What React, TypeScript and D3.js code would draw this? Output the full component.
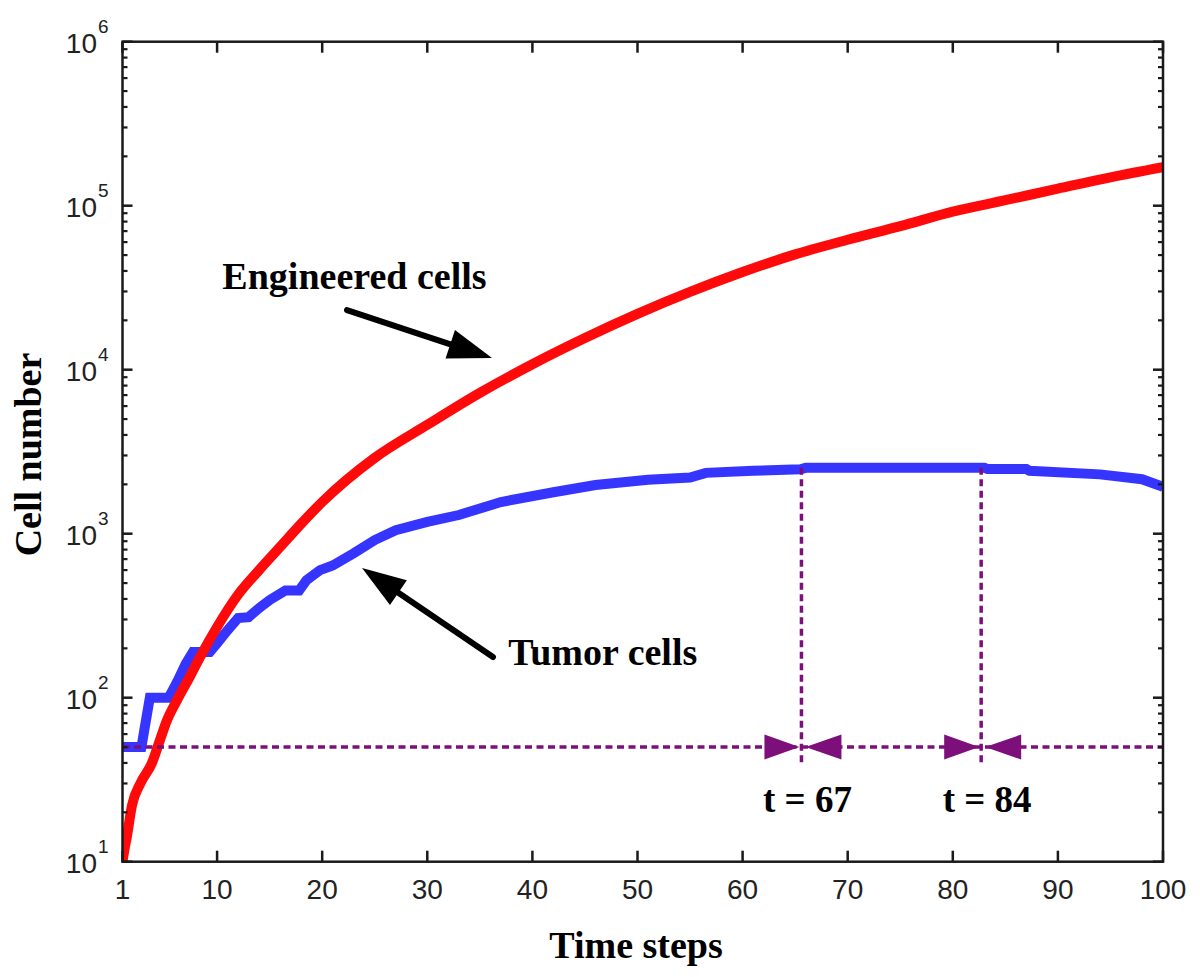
import React from 'react';
import * as d3 from 'd3';

// ---- data ----
const xTickValues = [1, 10, 20, 30, 40, 50, 60, 70, 80, 90, 100];
const yExponents = [1, 2, 3, 4, 5, 6];

const engineeredT = [1, 1.2, 1.4, 1.9, 2.7, 3.8, 4.6, 5.2, 6.2, 7.4, 8.4, 10, 12, 14, 16, 18, 20, 25, 30, 35, 40, 45, 50, 55, 60, 65, 70, 75, 80, 85, 90, 95, 100];
const engineeredV = [10, 12, 14, 22, 30, 40, 56, 72, 97, 134, 178, 270, 425, 600, 830, 1150, 1560, 2900, 4610, 7220, 10800, 15600, 21900, 29800, 39400, 50500, 62000, 75000, 92000, 108000, 127000, 149000, 172000];

const tumorT = [1, 2.8, 3.6, 5.4, 6.2, 7.0, 7.7, 9.3, 10, 11, 12, 13, 14, 15, 16.5, 17.8, 18.5, 19.8, 21, 23, 25, 27, 30, 33, 37, 42, 46, 51, 55, 56.5, 61, 65.5, 66, 83, 83.3, 87, 87.3, 94, 98, 100];
const tumorV = [50, 50, 100, 100, 125, 160, 190, 190, 215, 258, 306, 310, 352, 394, 450, 450, 520, 600, 640, 760, 915, 1050, 1180, 1300, 1560, 1790, 1980, 2130, 2200, 2350, 2420, 2470, 2520, 2520, 2480, 2480, 2420, 2300, 2150, 1930];

const thresholdValue = 50;
const markerT = [65.6, 82.7];
const markerLabels = ['t = 67', 't = 84'];
const markerTopValue = 2520;
const markerLabelValue = 20;

// annotation positions in data coords [t, value]
const engLabel = { text: 'Engineered cells', at: [23.07, 31000] };
const engArrow = { from: [22.36, 23100], to: [36.16, 11770] };
const tumLabel = { text: 'Tumor cells', at: [46.7, 158] };
const tumArrow = { from: [36.25, 177], to: [23.79, 618] };

const SANS = '"Liberation Sans", Arial, Helvetica, sans-serif';
const SERIF = '"Liberation Serif", "Times New Roman", Times, serif';

function Arrow({ x1, y1, x2, y2 }: { x1: number; y1: number; x2: number; y2: number }) {
  const ang = Math.atan2(y2 - y1, x2 - x1);
  const L = 44, hw = 15;
  const bx = x2 - L * Math.cos(ang), by = y2 - L * Math.sin(ang);
  const px = -Math.sin(ang), py = Math.cos(ang);
  const pts = [[x2, y2], [bx + px * hw, by + py * hw], [bx - px * hw, by - py * hw]];
  return (
    <g>
      <line x1={x1} y1={y1} x2={bx + 5 * Math.cos(ang)} y2={by + 5 * Math.sin(ang)} stroke="#000" strokeWidth={6} strokeLinecap="round" />
      <polygon points={pts.map(p => p.join(',')).join(' ')} fill="#000" />
    </g>
  );
}

export default function App() {
  const W = 1200, H = 977;
  const L = 122.5, R = 1163, T = 41.7, B = 861.7;
  const x = d3.scaleLinear().domain([1, 100]).range([L, R]);
  const y = d3.scaleLog().domain([10, 1e6]).range([B, T]);

  const engData: [number, number][] = engineeredT.map((t, i) => [t, engineeredV[i]]);
  const tumData: [number, number][] = tumorT.map((t, i) => [t, tumorV[i]]);
  const engLine = d3.line<[number, number]>().x(d => x(d[0])).y(d => y(d[1])).curve(d3.curveMonotoneX);
  const tumLine = d3.line<[number, number]>().x(d => x(d[0])).y(d => y(d[1])).curve(d3.curveLinear);

  const minorTicks: number[] = [];
  for (let k = 1; k < 6; k++) for (let j = 2; j <= 9; j++) minorTicks.push(j * Math.pow(10, k));

  const axisColor = '#1a1a1a';
  const purple = '#7d0f7b';
  const yThr = y(thresholdValue);

  return (
    <svg width={W} height={H} style={{ position: 'absolute', left: 0, top: 0, background: '#fff' }}>
      <defs>
        <clipPath id="plotClip">
          <rect x={L} y={T} width={R - L} height={B - T} />
        </clipPath>
      </defs>
      <rect x={0} y={0} width={W} height={H} fill="#fff" />

      {/* data lines */}
      <g clipPath="url(#plotClip)">
        <path d={tumLine(tumData) || ''} fill="none" stroke="#3535ff" strokeWidth={10} strokeLinejoin="miter" />
        <path d={engLine(engData) || ''} fill="none" stroke="#ff0a0a" strokeWidth={10} strokeLinejoin="round" />
      </g>

      {/* threshold dotted line */}
      <line x1={x(1)} x2={x(100)} y1={yThr} y2={yThr} stroke={purple} strokeWidth={3.5} strokeDasharray="7 4.5" />
      {markerT.map((t, i) => {
        const mx = x(t);
        return (
          <g key={i}>
            <line x1={mx} x2={mx} y1={y(markerTopValue)} y2={yThr + 18} stroke={purple} strokeWidth={3.5} strokeDasharray="7 4.5" />
            <polygon points={`${mx - 2},${yThr} ${mx - 37},${yThr - 12.5} ${mx - 37},${yThr + 12.5}`} fill={purple} />
            <polygon points={`${mx + 4},${yThr} ${mx + 40},${yThr - 12.5} ${mx + 40},${yThr + 12.5}`} fill={purple} />
            <text x={mx + 6} y={y(markerLabelValue)} textAnchor="middle" fontFamily={SERIF} fontWeight="bold" fontSize={37} fill="#000">{markerLabels[i]}</text>
          </g>
        );
      })}

      {/* axes box */}
      <rect x={L} y={T} width={R - L} height={B - T} fill="none" stroke={axisColor} strokeWidth={2.5} />

      {/* x ticks */}
      {xTickValues.map(v => (
        <g key={'x' + v}>
          <line x1={x(v)} x2={x(v)} y1={B} y2={B - 11} stroke={axisColor} strokeWidth={2.5} />
          <line x1={x(v)} x2={x(v)} y1={T} y2={T + 11} stroke={axisColor} strokeWidth={2.5} />
          <text x={x(v)} y={B + 37} textAnchor="middle" fontFamily={SANS} fontSize={28} fill="#222">{v}</text>
        </g>
      ))}

      {/* y ticks */}
      {yExponents.map(e => {
        const yy = y(Math.pow(10, e));
        return (
          <g key={'y' + e}>
            <line x1={L} x2={L + 10} y1={yy} y2={yy} stroke={axisColor} strokeWidth={2.5} />
            <line x1={R} x2={R - 10} y1={yy} y2={yy} stroke={axisColor} strokeWidth={2.5} />
            <text x={97} y={yy + 11} textAnchor="end" fontFamily={SANS} fontSize={28} fill="#222">10</text>
            <text x={98} y={yy - 9} textAnchor="start" fontFamily={SANS} fontSize={19} fill="#222">{e}</text>
          </g>
        );
      })}
      {minorTicks.map((v, i) => (
        <g key={'m' + i}>
          <line x1={L} x2={L + 5} y1={y(v)} y2={y(v)} stroke={axisColor} strokeWidth={2.2} />
          <line x1={R} x2={R - 5} y1={y(v)} y2={y(v)} stroke={axisColor} strokeWidth={2.2} />
        </g>
      ))}

      {/* axis titles */}
      <text x={636} y={958} textAnchor="middle" fontFamily={SERIF} fontWeight="bold" fontSize={38} fill="#000">Time steps</text>
      <text transform="translate(41,454.5) rotate(-90)" textAnchor="middle" fontFamily={SERIF} fontWeight="bold" fontSize={38} fill="#000">Cell number</text>

      {/* annotations */}
      <text x={x(engLabel.at[0])} y={y(engLabel.at[1])} textAnchor="middle" fontFamily={SERIF} fontWeight="bold" fontSize={38} fill="#000">{engLabel.text}</text>
      <Arrow x1={x(engArrow.from[0])} y1={y(engArrow.from[1])} x2={x(engArrow.to[0])} y2={y(engArrow.to[1])} />
      <text x={x(tumLabel.at[0])} y={y(tumLabel.at[1])} textAnchor="middle" fontFamily={SERIF} fontWeight="bold" fontSize={38} fill="#000">{tumLabel.text}</text>
      <Arrow x1={x(tumArrow.from[0])} y1={y(tumArrow.from[1])} x2={x(tumArrow.to[0])} y2={y(tumArrow.to[1])} />
    </svg>
  );
}
